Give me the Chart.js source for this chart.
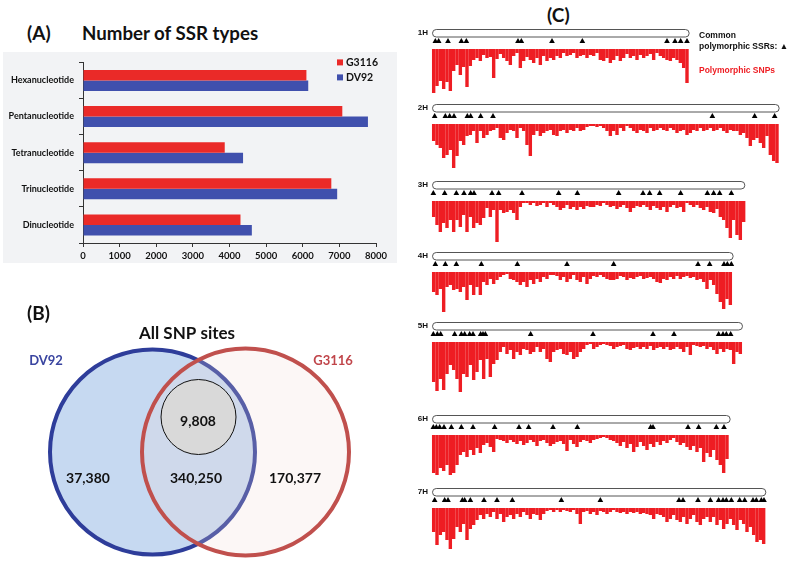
<!DOCTYPE html>
<html>
<head>
<meta charset="utf-8">
<script src="https://cdn.jsdelivr.net/npm/chart.js@4.4.0/dist/chart.umd.min.js"></script>
<style>
  body { margin: 0; background: #fff; width: 794px; height: 561px; position: relative; overflow: hidden; font-family: Lato, sans-serif; }
  .abs { position: absolute; }
  .panel { font-weight: bold; font-size: 19px; color: #111; }
  .leg { font-family: "Liberation Sans", Arial, sans-serif; font-weight: bold; font-size: 8.5px; line-height: 10.5px; color: #111; }
</style>
</head>
<body>
<div class="abs panel" style="left:27px;top:21px">(A)</div>
<div class="abs panel" style="left:82px;top:22px;font-size:18.7px">Number of SSR types</div>
<div class="abs" style="left:3px;top:52px;width:394px;height:211px;background:#f2f3f5"><canvas id="ssrChart"></canvas></div>

<div class="abs" style="left:0;top:290px;width:400px;height:271px"><canvas id="vennChart"></canvas></div>
<div class="abs panel" style="left:27px;top:301px">(B)</div>

<div class="abs panel" style="left:547px;top:3px">(C)</div>
<div id="chrHolder"></div>
<div class="abs leg" style="left:699px;top:30px">Common<br>polymorphic SSRs: &#9650;</div>
<div class="abs leg" style="left:699px;top:65px;color:#ee1d23">Polymorphic SNPs</div>

<script>
// ---- (A) SSR types ----
const ssrTypes = ['Hexanucleotide', 'Pentanucleotide', 'Tetranucleotide', 'Trinucleotide', 'Dinucleotide'];
const g3116Ssr = [6100, 7080, 3870, 6780, 4300];
const dv92Ssr = [6150, 7780, 4370, 6940, 4610];
const ssrTickStep = 1000;
const ssrMax = 8000;

// ---- (B) SNP venn ----
const vennTitle = 'All SNP sites';
const vennNames = ['DV92', 'G3116'];
const vennCounts = [37380, 340250, 170377, 9808]; // DV92 only, shared, G3116 only, polymorphic

// ---- (C) chromosomes ----
const chromosomes = ['1H', '2H', '3H', '4H', '5H', '6H', '7H'];
const chrLength = [77.3, 104.3, 94, 90.5, 93.3, 89.6, 100.3]; // in bins

const snp1H = [44,37,32,40,33,42,22,16,26,18,38,17,11,9,12,6,9,8,29,10,5,9,12,16,7,4,19,12,8,11,14,9,16,7,12,9,11,7,9,4,7,6,4,9,7,6,9,6,7,4,11,12,9,14,11,7,12,9,5,9,7,11,6,9,7,5,11,4,7,9,11,12,9,11,14,19,34];
const snp2H = [17,21,24,34,31,26,44,32,17,21,12,11,7,19,7,14,11,7,6,4,14,16,9,6,7,14,4,7,21,32,11,7,12,9,7,6,11,12,7,6,9,6,7,4,7,6,3,2,2,3,2,4,7,12,7,11,4,7,2,4,7,9,6,7,9,4,7,6,4,6,7,4,6,9,7,6,11,9,6,7,4,7,6,4,7,6,4,7,9,6,7,7,11,9,14,22,16,14,19,24,12,31,37,39];
const snp3H = [16,24,31,22,27,19,31,19,26,14,31,16,27,22,24,17,7,16,9,41,9,12,11,9,12,19,6,2,2,4,2,5,4,2,6,2,4,6,9,7,4,8,6,9,6,8,5,6,6,4,5,2,4,6,5,8,6,4,7,11,7,5,6,4,6,9,5,7,9,6,11,6,4,7,6,11,2,4,6,4,7,9,6,11,12,8,16,19,27,37,19,34,39,21];
const snp4H = [20,23,17,40,15,13,18,17,20,15,28,13,23,15,23,10,13,7,12,8,5,3,2,7,8,10,13,10,15,8,12,7,10,5,7,3,3,4,8,5,10,7,3,8,10,5,12,7,4,5,3,5,7,8,8,7,4,5,8,6,7,5,4,7,6,5,7,10,11,7,8,5,7,4,7,5,4,6,5,8,7,10,17,8,13,22,30,37,27,33];
const snp5H = [40,49,37,48,32,23,28,37,50,32,35,23,38,30,18,37,17,35,22,18,10,5,12,8,17,10,13,7,8,12,10,5,10,7,17,20,10,8,7,12,13,10,17,15,10,7,3,2,7,5,3,2,3,4,7,5,4,3,7,8,6,5,7,5,7,4,8,6,5,7,5,8,7,5,7,10,5,13,3,4,5,4,7,5,8,12,7,10,7,8,22,10,12];
const snp6H = [38,40,33,36,30,40,38,30,20,17,22,15,20,13,18,10,8,12,17,4,5,6,8,5,7,9,6,10,8,5,7,11,6,5,8,11,9,7,6,9,16,5,9,12,7,5,6,8,5,4,3,2,3,5,6,8,11,7,13,9,17,12,7,11,15,9,12,7,10,6,8,5,3,7,10,8,12,15,11,17,13,27,18,22,15,25,30,38,24];
const snp7H = [24,37,27,24,32,41,31,19,24,16,32,21,17,12,7,11,6,9,4,11,6,14,9,7,11,6,9,4,7,11,6,7,12,6,3,2,4,2,4,2,3,4,2,6,16,4,3,6,4,7,3,4,6,4,2,4,5,4,6,4,5,4,6,5,6,7,11,6,7,9,14,11,7,12,14,9,16,11,7,14,17,11,9,14,9,17,12,21,16,11,17,22,12,16,24,19,27,34,32,36];
const snpBins = [snp1H, snp2H, snp3H, snp4H, snp5H, snp6H, snp7H];

const ssr1H = [1.0,2.0,4.8,8.8,10.3,25.8,26.8,36,45.1,70.5,72.9,74.6,76.5];
const ssr2H = [0.8,4.0,5.3,6.6,10.6,11.6,14.6,18.3,84.1,96.8,102.8];
const ssr3H = [0.4,3.8,7.3,9.6,11.6,12.6,18,20,27,38,43.6,56,63.3,65.3,68.3,74.6,82.6,84.5,86.3,89.8];
const ssr4H = [1.0,4.0,7.3,14.8,25.6,40.5,54.5,79.8,83.3,87.6,88.6,89.8];
const ssr5H = [0.4,1.6,2.6,6.8,8.8,9.8,11.3,12.3,14.6,15.3,16,29.6,48.3,66.3,72.6,86,87.3,88.3,89.6];
const ssr6H = [0.4,1.3,2.3,3.6,5.8,8.8,12.3,18.8,26.1,29,36.3,43.6,65.6,66.3,76.8,80,85.3,87.6];
const ssr7H = [0.8,3.8,4.8,9.1,9.8,11.5,15.6,19.5,24.1,38.8,50.5,74.1,75.3,79.8,83.5,86,87.3,88.3,89.8,92.3,93.8,96.3,97.3,98.8,99.6];
const ssrSites = [ssr1H, ssr2H, ssr3H, ssr4H, ssr5H, ssr6H, ssr7H];

const RED = '#ea2a28';
const BLUE = '#4050ad';
const SNP_RED = '#ee1d23';

// ================= (A) =================
const ssrLegend = {
  id: 'ssrLegend',
  afterDraw(chart) {
    const { ctx, chartArea } = chart;
    ctx.save();
    ctx.font = 'bold 10.5px Lato';
    ctx.textBaseline = 'middle';
    chart.data.datasets.forEach((ds, i) => {
      const y = chartArea.top + i * 15;
      ctx.fillStyle = ds.backgroundColor;
      ctx.fillRect(chartArea.right - 39, y - 3, 6, 6);
      ctx.fillStyle = '#111';
      ctx.fillText(ds.label, chartArea.right - 30, y);
    });
    ctx.restore();
  }
};

new Chart(document.getElementById('ssrChart'), {
  type: 'bar',
  data: {
    labels: ssrTypes,
    datasets: [
      { label: 'G3116', data: g3116Ssr, backgroundColor: RED },
      { label: 'DV92', data: dv92Ssr, backgroundColor: BLUE }
    ]
  },
  options: {
    indexAxis: 'y',
    responsive: true,
    maintainAspectRatio: false,
    animation: false,
    events: [],
    layout: { autoPadding: false, padding: { top: 9, right: 21, left: 0, bottom: 0 } },
    datasets: { bar: { barPercentage: 1, categoryPercentage: 0.58 } },
    plugins: { legend: { display: false }, tooltip: { enabled: false } },
    scales: {
      x: {
        min: 0, max: ssrMax,
        ticks: { stepSize: ssrTickStep, color: '#111', padding: 3, font: { family: 'Lato', weight: 'bold', size: 9.5 },
                 callback: v => String(v) },
        grid: { drawOnChartArea: false, tickLength: 4, color: '#333' },
        border: { color: '#333' },
        afterFit(s) { s.height = 20; }
      },
      y: {
        ticks: { color: '#111', padding: 5, font: { family: 'Lato', weight: 'bold', size: 9 } },
        grid: { drawOnChartArea: false, tickLength: 4, color: '#333', offset: true },
        border: { color: '#333' },
        afterFit(s) { s.width = 80; }
      }
    }
  },
  plugins: [ssrLegend]
});

// ================= (B) =================
// layout of the diagram (canvas units, y downwards)
const vennLayout = {
  dv92: { x: 152.5, y: 162, r: 102.5 },
  g3116: { x: 245.5, y: 162, r: 103.5 },
  poly: { x: 198.5, y: 127, r: 37.5 }
};

const vennText = {
  id: 'vennText',
  afterDatasetsDraw(chart) {
    const { ctx, scales: { x, y } } = chart;
    const put = (txt, vx, vy, font, color) => {
      ctx.font = font;
      ctx.fillStyle = color;
      ctx.fillText(txt, x.getPixelForValue(vx), y.getPixelForValue(vy));
    };
    const fmt = v => v.toLocaleString('en-US');
    ctx.save();
    ctx.textAlign = 'center';
    ctx.textBaseline = 'middle';
    put(vennTitle, 187, 44, 'bold 17px Lato', '#111');
    put(vennNames[0], 46, 71, 'bold 13px Lato', '#3a45a0');
    put(vennNames[1], 333, 71, 'bold 13px Lato', '#c0454a');
    const nf = 'bold 14px Lato';
    put(fmt(vennCounts[0]), 88, 188, nf, '#111');
    put(fmt(vennCounts[1]), 196, 188, nf, '#111');
    put(fmt(vennCounts[2]), 295, 188, nf, '#111');
    put(fmt(vennCounts[3]), 198, 131, nf, '#111');
    ctx.restore();
  }
};

new Chart(document.getElementById('vennChart'), {
  type: 'bubble',
  data: {
    datasets: [
      { label: 'polymorphic', data: [vennLayout.poly], backgroundColor: '#d9d9d9', borderColor: '#111', borderWidth: 1, clip: false },
      { label: vennNames[1], data: [vennLayout.g3116], backgroundColor: 'rgba(242,218,215,0.22)', borderColor: '#c0504d', borderWidth: 4, clip: false },
      { label: vennNames[0], data: [vennLayout.dv92], backgroundColor: '#c6d9f1', borderColor: '#2e3d9a', borderWidth: 4, clip: false }
    ]
  },
  options: {
    responsive: true,
    maintainAspectRatio: false,
    animation: false,
    events: [],
    layout: { autoPadding: false, padding: 0 },
    plugins: { legend: { display: false }, tooltip: { enabled: false } },
    scales: {
      x: { display: false, min: 0, max: 400 },
      y: { display: false, min: 0, max: 271, reverse: true }
    }
  },
  plugins: [vennText]
});

// ================= (C) =================
const chrBase = [49, 124, 201, 272, 342, 435, 508]; // page y of each bar baseline

const chrOutline = {
  id: 'chrOutline',
  beforeDatasetsDraw(chart, args, opts) {
    const { ctx, scales: { x, y } } = chart;
    const x0 = x.getPixelForValue(0), x1 = x.getPixelForValue(opts.len);
    const yt = y.getPixelForValue(20), yb = y.getPixelForValue(11.5);
    const r = (yb - yt) / 2;
    ctx.save();
    ctx.beginPath();
    ctx.moveTo(x0 + r, yt + 0.5);
    ctx.lineTo(x1 - r, yt + 0.5);
    ctx.arc(x1 - r, yt + r, r - 0.5, -Math.PI / 2, Math.PI / 2);
    ctx.lineTo(x0 + r, yb - 0.5);
    ctx.arc(x0 + r, yt + r, r - 0.5, Math.PI / 2, Math.PI * 1.5);
    ctx.closePath();
    ctx.fillStyle = '#fff';
    ctx.fill();
    ctx.strokeStyle = '#555';
    ctx.lineWidth = 1;
    ctx.stroke();
    ctx.font = 'bold 8px "Liberation Sans", Arial';
    ctx.fillStyle = '#111';
    ctx.textAlign = 'right';
    ctx.textBaseline = 'middle';
    ctx.fillText(opts.name, x0 - 4, yt + r);
    ctx.restore();
  }
};

const holder = document.getElementById('chrHolder');
chromosomes.forEach((name, i) => {
  const box = document.createElement('div');
  box.className = 'abs';
  box.style.cssText = `left:412px;top:${chrBase[i] - 22}px;width:372px;height:74px`;
  const cv = document.createElement('canvas');
  box.appendChild(cv);
  holder.appendChild(box);

  new Chart(cv, {
    type: 'bar',
    data: {
      datasets: [
        {
          type: 'scatter',
          data: ssrSites[i].map(p => ({ x: p, y: 7.7 })),
          pointStyle: 'triangle',
          pointRadius: 3.3,
          backgroundColor: '#000',
          borderWidth: 0
        },
        {
          data: snpBins[i].map((v, k) => ({ x: k + 0.5, y: -v })),
          backgroundColor: SNP_RED,
          borderWidth: 0,
          barPercentage: 1.02,
          categoryPercentage: 1
        }
      ]
    },
    options: {
      responsive: true,
      maintainAspectRatio: false,
      animation: false,
      events: [],
      layout: { autoPadding: false, padding: 0 },
      plugins: {
        legend: { display: false },
        tooltip: { enabled: false },
        chrOutline: { name: name, len: chrLength[i] }
      },
      scales: {
        x: { type: 'linear', min: -6, max: 105.6, display: false, offset: false },
        y: { min: -52, max: 22, display: false }
      }
    },
    plugins: [chrOutline]
  });
});
</script>
</body>
</html>
